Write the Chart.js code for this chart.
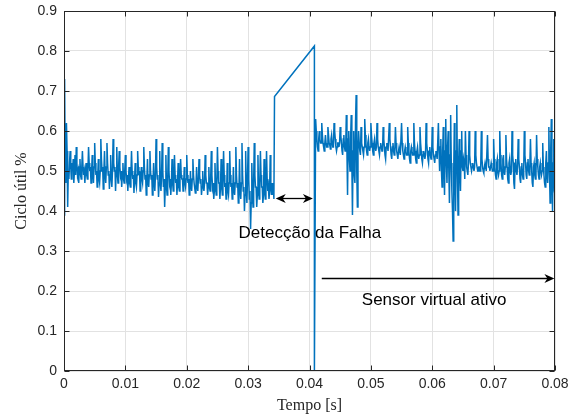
<!DOCTYPE html>
<html><head><meta charset="utf-8">
<script src="https://cdn.jsdelivr.net/npm/chart.js@4/dist/chart.umd.min.js"></script>
<style>html,body{margin:0;padding:0;background:#fff}</style>
</head><body>
<canvas id="c" width="586" height="414"></canvas>
<script>
// ---- data ----
const sampleStep = 0.0001;             // sampling interval of the recorded signal [s]
const normalStart = 0;                  // physical sensor segment start [s]
const normalValues = [
  0.39,0.73,0.50,0.47,0.62,0.55,0.41,0.50,0.48,0.52,
  0.55,0.51,0.48,0.52,0.50,0.53,0.47,0.50,0.54,0.49,
  0.56,0.52,0.49,0.50,0.47,0.51,0.53,0.49,0.48,0.51,
  0.55,0.51,0.49,0.50,0.47,0.50,0.52,0.49,0.48,0.50,
  0.56,0.52,0.50,0.51,0.47,0.50,0.54,0.49,0.47,0.51,
  0.57,0.52,0.49,0.50,0.46,0.49,0.53,0.48,0.47,0.50,
  0.58,0.53,0.50,0.51,0.455,0.50,0.55,0.49,0.47,0.51,
  0.57,0.52,0.49,0.50,0.455,0.49,0.54,0.48,0.46,0.50,
  0.58,0.52,0.50,0.51,0.45,0.50,0.56,0.49,0.47,0.51,
  0.55,0.51,0.49,0.50,0.46,0.49,0.52,0.48,0.47,0.50,
  0.54,0.50,0.48,0.49,0.45,0.48,0.51,0.47,0.46,0.49,
  0.55,0.50,0.48,0.49,0.445,0.48,0.52,0.47,0.46,0.49,
  0.55,0.51,0.49,0.50,0.45,0.48,0.51,0.48,0.47,0.50,
  0.56,0.51,0.48,0.49,0.44,0.48,0.53,0.47,0.46,0.49,
  0.55,0.50,0.48,0.49,0.44,0.47,0.52,0.47,0.45,0.49,
  0.58,0.51,0.48,0.49,0.435,0.47,0.55,0.47,0.45,0.49,
  0.57,0.50,0.46,0.48,0.41,0.46,0.54,0.46,0.44,0.48,
  0.56,0.50,0.47,0.48,0.44,0.47,0.53,0.47,0.45,0.48,
  0.54,0.49,0.47,0.48,0.44,0.47,0.52,0.46,0.45,0.48,
  0.53,0.49,0.48,0.48,0.45,0.47,0.51,0.47,0.46,0.48,
  0.54,0.49,0.47,0.48,0.44,0.46,0.50,0.46,0.45,0.48,
  0.53,0.49,0.47,0.47,0.445,0.46,0.51,0.46,0.45,0.48,
  0.53,0.49,0.47,0.48,0.44,0.46,0.50,0.46,0.45,0.47,
  0.54,0.49,0.47,0.47,0.44,0.46,0.51,0.46,0.45,0.48,
  0.55,0.49,0.46,0.47,0.43,0.45,0.52,0.46,0.44,0.47,
  0.56,0.50,0.47,0.47,0.43,0.46,0.53,0.46,0.44,0.48,
  0.55,0.49,0.46,0.47,0.43,0.45,0.52,0.45,0.44,0.47,
  0.55,0.49,0.46,0.47,0.43,0.45,0.51,0.45,0.44,0.47,
  0.56,0.49,0.46,0.47,0.42,0.45,0.53,0.45,0.43,0.47,
  0.57,0.49,0.45,0.46,0.40,0.44,0.55,0.46,0.42,0.48,
  0.56,0.48,0.43,0.45,0.355,0.42,0.52,0.45,0.41,0.47,
  0.57,0.49,0.46,0.46,0.41,0.44,0.54,0.45,0.43,0.47,
  0.55,0.49,0.46,0.46,0.42,0.44,0.53,0.45,0.43,0.47,
  0.55,0.48,0.45,0.46,0.43,0.45,0.54,0.46,0.44,0.47,
  0.44,0.46,0.43
];
const faultTimes  = [0.0343, 0.0408, 0.0408];   // sensor fault transient
const faultValues = [0.686, 0.8125, 0];
const virtualStart = 0.0410;            // virtual sensor segment start [s]
const virtualValues = [
  0.63,0.60,0.58,0.56,0.55,0.58,0.60,0.58,0.57,0.57,
  0.62,0.59,0.57,0.56,0.55,0.57,0.59,0.57,0.56,0.56,
  0.61,0.59,0.57,0.565,0.555,0.58,0.59,0.57,0.56,0.56,
  0.62,0.60,0.58,0.56,0.55,0.56,0.57,0.57,0.56,0.57,
  0.61,0.59,0.57,0.55,0.54,0.58,0.59,0.56,0.55,0.56,
  0.64,0.55,0.44,0.58,0.60,0.53,0.50,0.58,0.64,0.52,
  0.39,0.55,0.60,0.49,0.47,0.62,0.69,0.50,0.41,0.55,
  0.60,0.57,0.55,0.54,0.61,0.57,0.56,0.55,0.54,0.56,
  0.63,0.59,0.57,0.55,0.54,0.57,0.58,0.56,0.55,0.56,
  0.62,0.59,0.57,0.55,0.54,0.57,0.58,0.56,0.55,0.56,
  0.62,0.58,0.56,0.55,0.54,0.56,0.57,0.56,0.55,0.55,
  0.61,0.58,0.56,0.54,0.53,0.56,0.57,0.56,0.55,0.55,
  0.62,0.58,0.56,0.54,0.53,0.56,0.57,0.55,0.54,0.55,
  0.61,0.57,0.55,0.54,0.53,0.55,0.56,0.55,0.54,0.54,
  0.62,0.57,0.55,0.54,0.53,0.55,0.56,0.55,0.54,0.54,
  0.61,0.57,0.55,0.53,0.52,0.55,0.56,0.55,0.54,0.54,
  0.62,0.57,0.55,0.53,0.52,0.55,0.56,0.54,0.53,0.54,
  0.61,0.57,0.55,0.53,0.52,0.54,0.55,0.54,0.53,0.54,
  0.62,0.57,0.55,0.53,0.52,0.55,0.56,0.54,0.53,0.54,
  0.61,0.56,0.54,0.53,0.52,0.54,0.55,0.54,0.53,0.53,
  0.62,0.55,0.50,0.56,0.58,0.50,0.46,0.55,0.61,0.52,
  0.44,0.55,0.63,0.52,0.47,0.56,0.60,0.50,0.42,0.54,
  0.64,0.52,0.45,0.40,0.325,0.50,0.62,0.48,0.40,0.55,
  0.665,0.50,0.39,0.52,0.58,0.49,0.45,0.55,0.60,0.51,
  0.50,0.53,0.52,0.48,0.60,0.54,0.51,0.50,0.49,0.52,
  0.60,0.54,0.52,0.51,0.50,0.51,0.52,0.51,0.50,0.51,
  0.60,0.54,0.52,0.51,0.50,0.50,0.51,0.51,0.50,0.51,
  0.60,0.53,0.51,0.50,0.495,0.51,0.52,0.51,0.50,0.50,
  0.59,0.53,0.51,0.51,0.50,0.51,0.52,0.51,0.50,0.50,
  0.58,0.53,0.51,0.49,0.48,0.52,0.53,0.50,0.49,0.50,
  0.60,0.54,0.52,0.49,0.48,0.53,0.54,0.50,0.49,0.51,
  0.59,0.53,0.51,0.48,0.47,0.52,0.53,0.50,0.49,0.50,
  0.60,0.54,0.52,0.47,0.455,0.52,0.53,0.50,0.49,0.51,
  0.58,0.53,0.51,0.48,0.47,0.51,0.52,0.49,0.48,0.50,
  0.60,0.54,0.52,0.49,0.48,0.52,0.53,0.50,0.49,0.51,
  0.58,0.52,0.50,0.47,0.46,0.51,0.52,0.49,0.48,0.49,
  0.59,0.53,0.51,0.49,0.48,0.51,0.52,0.50,0.49,0.50,
  0.57,0.51,0.49,0.47,0.46,0.52,0.55,0.49,0.47,0.52,
  0.61,0.50,0.42,0.55,0.63,0.48,0.40,0.52,0.58,0.45,
  0.44
];
const xTickValues = [0,0.01,0.02,0.03,0.04,0.05,0.06,0.07,0.08];
const xTickLabels = ['0','0.01','0.02','0.03','0.04','0.05','0.06','0.07','0.08'];
const yTickValues = [0,0.1,0.2,0.3,0.4,0.5,0.6,0.7,0.8,0.9];
const yTickLabels = ['0','0.1','0.2','0.3','0.4','0.5','0.6','0.7','0.8','0.9'];
const xTitle = 'Tempo [s]';
const yTitle = 'Ciclo útil %';
// annotations (data units)
const detectionArrow = {x1: 0.0345, x2: 0.04055, y: 0.4317};
const detectionText = {text: 'Detecção da Falha', x: 0.04006, y: 0.345};
const virtualArrow = {x1: 0.0420, x2: 0.0799, y: 0.2333};
const virtualText = {text: 'Sensor virtual ativo', x: 0.0603, y: 0.176};

// ---- build points ----
const points = [];
normalValues.forEach((v, i) => points.push({x: normalStart + i * sampleStep, y: v}));
faultTimes.forEach((t, i) => points.push({x: t, y: faultValues[i]}));
virtualValues.forEach((v, i) => points.push({x: virtualStart + i * sampleStep, y: v}));

const AX = '#262626';
function arrowHead(ctx, xt, yt, dir) {
  const L = 10, W = 4.5, back = 7;
  ctx.beginPath();
  ctx.moveTo(xt, yt);
  ctx.lineTo(xt - dir * L, yt - W);
  ctx.lineTo(xt - dir * back, yt);
  ctx.lineTo(xt - dir * L, yt + W);
  ctx.closePath();
  ctx.fill();
}
const framePlugin = {
  id: 'frame',
  afterDatasetsDraw(chart) {
    const {ctx, chartArea: {left, right, top, bottom}, scales: {x, y}} = chart;
    ctx.save();
    ctx.strokeStyle = '#000'; ctx.fillStyle = '#000'; ctx.lineWidth = 1.3;
    [[detectionArrow, true], [virtualArrow, false]].forEach(([a, dbl]) => {
      const x1 = x.getPixelForValue(a.x1), x2 = x.getPixelForValue(a.x2), yy = Math.round(y.getPixelForValue(a.y)) + 0.5;
      ctx.beginPath();
      ctx.moveTo(x1 + (dbl ? 6 : 0), yy); ctx.lineTo(x2 - 6, yy); ctx.stroke();
      arrowHead(ctx, x2, yy, 1);
      if (dbl) arrowHead(ctx, x1, yy, -1);
    });
    ctx.font = '17px "Liberation Sans", Arial, sans-serif';
    ctx.textAlign = 'center'; ctx.textBaseline = 'middle';
    [detectionText, virtualText].forEach(t => ctx.fillText(t.text, x.getPixelForValue(t.x), y.getPixelForValue(t.y)));
    ctx.strokeStyle = AX; ctx.lineWidth = 1;
    const L = Math.round(left) + 0.5, R = Math.round(right) - 0.5, T = Math.round(top) + 0.5, B = Math.round(bottom) - 0.5;
    ctx.beginPath();
    xTickValues.forEach(v => {
      const px = Math.round(x.getPixelForValue(v)) + 0.5;
      ctx.moveTo(px, B); ctx.lineTo(px, B - 5);
      ctx.moveTo(px, T); ctx.lineTo(px, T + 5);
    });
    yTickValues.forEach(v => {
      const py = Math.round(y.getPixelForValue(v)) + 0.5;
      ctx.moveTo(L, py); ctx.lineTo(L + 5, py);
      ctx.moveTo(R, py); ctx.lineTo(R - 5, py);
    });
    ctx.stroke();
    ctx.strokeRect(L, T, R - L, B - T);
    ctx.restore();
  }
};

new Chart(document.getElementById('c'), {
  type: 'line',
  data: {datasets: [{data: points, borderColor: '#0072BD', borderWidth: 1.5, pointRadius: 0, tension: 0, fill: false}]},
  options: {
    responsive: false, animation: false, devicePixelRatio: 1,
    layout: {padding: {top: 11, right: 31, left: 0, bottom: 0}},
    plugins: {legend: {display: false}, tooltip: {enabled: false}},
    scales: {
      x: {
        type: 'linear', min: 0, max: 0.08,
        afterBuildTicks: s => { s.ticks = xTickValues.map(v => ({value: v})); },
        afterFit: s => { s.height = 43; s.paddingLeft = 0; s.paddingRight = 0; },
        ticks: {callback: (v, i) => xTickLabels[i], color: AX, font: {family: '"Liberation Sans", Arial, sans-serif', size: 14}, padding: 5, maxRotation: 0, autoSkip: false},
        grid: {color: '#e2e2e2', drawTicks: false, tickLength: 0},
        border: {display: false},
        title: {display: true, text: xTitle, color: AX, font: {family: '"Liberation Serif", "Times New Roman", serif', size: 16, lineHeight: 1}, padding: {top: 0, bottom: 0}}
      },
      y: {
        type: 'linear', min: 0, max: 0.9,
        afterBuildTicks: s => { s.ticks = yTickValues.map(v => ({value: v})); },
        afterFit: s => { s.width = 64; s.paddingTop = 0; s.paddingBottom = 0; },
        ticks: {callback: (v, i) => yTickLabels[i], color: AX, font: {family: '"Liberation Sans", Arial, sans-serif', size: 14}, padding: 7, autoSkip: false},
        grid: {color: '#e2e2e2', drawTicks: false, tickLength: 0},
        border: {display: false},
        title: {display: true, text: yTitle, color: AX, font: {family: '"Liberation Serif", "Times New Roman", serif', size: 16, lineHeight: 1}, padding: {top: 14, bottom: 0}}
      }
    }
  },
  plugins: [framePlugin]
});
</script>
</body></html>
